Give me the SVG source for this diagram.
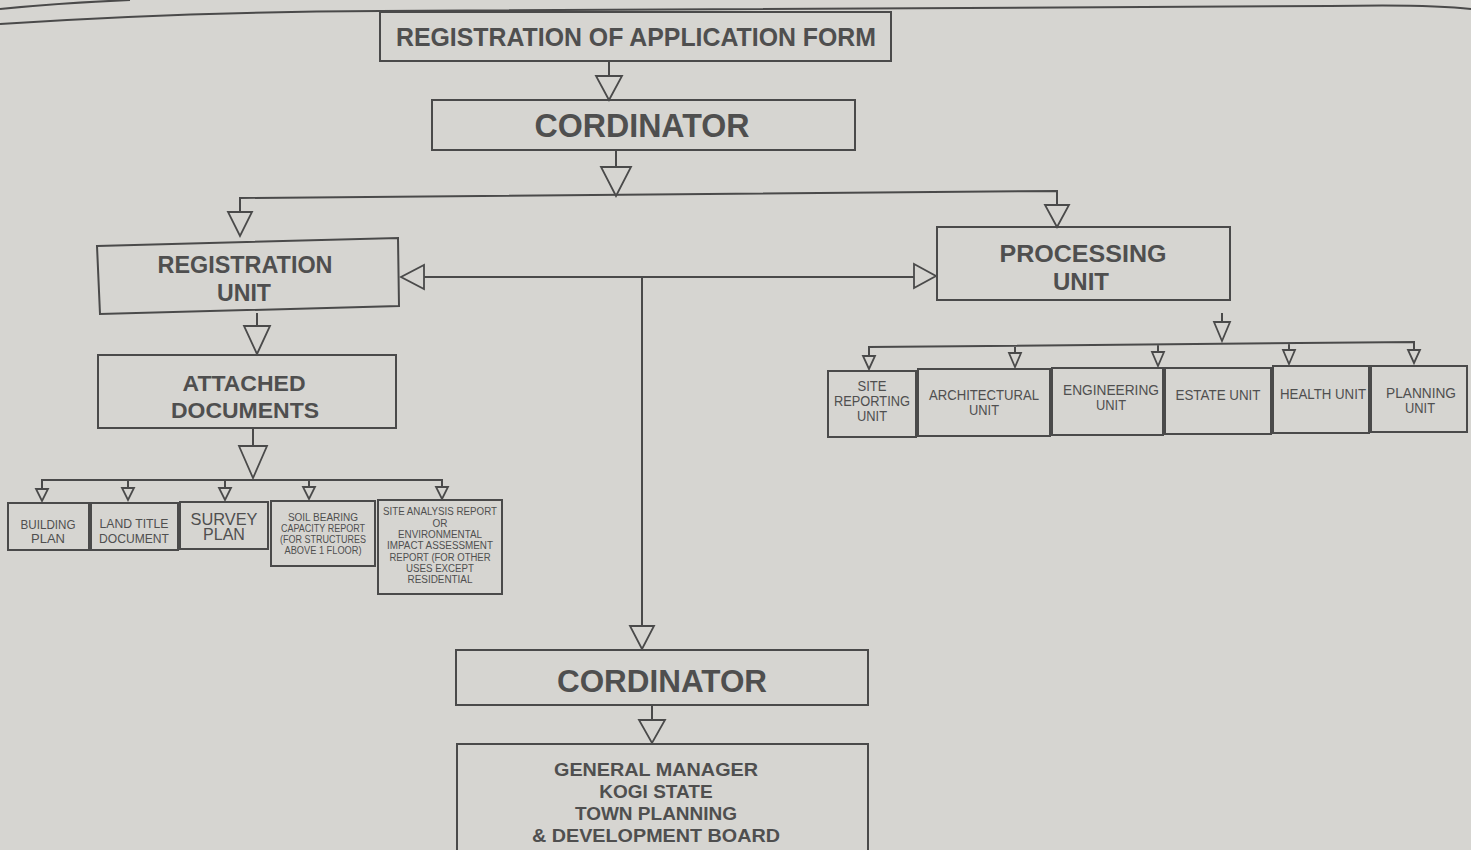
<svg xmlns="http://www.w3.org/2000/svg" width="1471" height="850" viewBox="0 0 1471 850">
<style>
.bx{fill:none;stroke:#4a4a4a;stroke-width:2}
.ln{fill:none;stroke:#4a4a4a;stroke-width:2}
.tri{fill:#d6d5d1;stroke:#4a4a4a;stroke-width:1.8;stroke-linejoin:miter}
text{font-family:"Liberation Sans",Arial,sans-serif;fill:#4f4f4f;text-anchor:middle}
.b{font-weight:bold}
.s{font-size:13px}
.u{font-size:14.5px}
.xs{font-size:10px}
</style>
<rect x="0" y="0" width="1471" height="850" fill="#d6d5d1"/>
<path class="ln" d="M0,24 Q180,12 380,11 L1330,6 Q1430,4 1471,9" stroke-width="2.5"/>
<path class="ln" d="M0,9 Q60,3 130,0" stroke-width="2"/>

<g id="connectors">
  <path class="ln" d="M609,61 V76"/>
  <polygon class="tri" points="596,76 622,76 609,100"/>
  <path class="ln" d="M616,150 V167"/>
  <polygon class="tri" points="601,167 631,167 616,196"/>
  <path class="ln" d="M240,212 V198 L1057,191 V205"/>
  <polygon class="tri" points="228,212 252,212 240,236"/>
  <polygon class="tri" points="1045,205 1069,205 1057,227"/>
  <path class="ln" d="M424,277 H914 M642,277 V626"/>
  <polygon class="tri" points="424,265 424,289 401,277"/>
  <polygon class="tri" points="914,264 914,288 936,276"/>
  <polygon class="tri" points="630,626 654,626 642,649"/>
  <path class="ln" d="M257,313 V326"/>
  <polygon class="tri" points="244,326 270,326 257,354"/>
  <path class="ln" d="M253,428 V446"/>
  <polygon class="tri" points="239,446 267,446 253,478"/>
  <path class="ln" d="M42,489 V480 H442 V487 M128,480 V488 M225,480 V488 M309,480 V488"/>
  <polygon class="tri" points="36,489 48,489 42,501"/>
  <polygon class="tri" points="122,488 134,488 128,500"/>
  <polygon class="tri" points="219,488 231,488 225,500"/>
  <polygon class="tri" points="303,487 315,487 309,499"/>
  <polygon class="tri" points="436,487 448,487 442,499"/>
  <path class="ln" d="M1222,313 V322"/>
  <polygon class="tri" points="1214,322 1230,322 1222,341"/>
  <path class="ln" d="M869,356 V347 L1414,342 V350 M1015,346 V353 M1158,345 V352 M1289,343 V350"/>
  <polygon class="tri" points="863,356 875,356 869,369"/>
  <polygon class="tri" points="1009,353 1021,353 1015,367"/>
  <polygon class="tri" points="1152,352 1164,352 1158,366"/>
  <polygon class="tri" points="1283,350 1295,350 1289,364"/>
  <polygon class="tri" points="1408,350 1420,350 1414,363"/>
  <path class="ln" d="M652,705 V720"/>
  <polygon class="tri" points="639,720 665,720 652,743"/>
</g>

<g id="reg-form">
  <rect class="bx" x="380" y="12" width="511" height="49"/>
  <text class="b" x="636" y="46" style="font-size:25px" textLength="480" lengthAdjust="spacingAndGlyphs">REGISTRATION OF APPLICATION FORM</text>
</g>
<g id="coordinator-top">
  <rect class="bx" x="432" y="100" width="423" height="50"/>
  <text class="b" x="642" y="137" style="font-size:33px" textLength="215" lengthAdjust="spacingAndGlyphs">CORDINATOR</text>
</g>
<g id="registration-unit">
  <path class="bx" d="M97,246 L398,238 L399,306 L100,314 Z"/>
  <text class="b" x="245" y="273" style="font-size:23px" textLength="175" lengthAdjust="spacingAndGlyphs">REGISTRATION</text>
  <text class="b" x="244" y="301" style="font-size:23px" textLength="54" lengthAdjust="spacingAndGlyphs">UNIT</text>
</g>
<g id="processing-unit">
  <rect class="bx" x="937" y="227" width="293" height="73"/>
  <text class="b" x="1083" y="262" style="font-size:23px" textLength="167" lengthAdjust="spacingAndGlyphs">PROCESSING</text>
  <text class="b" x="1081" y="290" style="font-size:23px" textLength="56" lengthAdjust="spacingAndGlyphs">UNIT</text>
</g>
<g id="attached-documents">
  <rect class="bx" x="98" y="355" width="298" height="73"/>
  <text class="b" x="244" y="391" style="font-size:22px" textLength="123" lengthAdjust="spacingAndGlyphs">ATTACHED</text>
  <text class="b" x="245" y="418" style="font-size:22px" textLength="148" lengthAdjust="spacingAndGlyphs">DOCUMENTS</text>
</g>
<g id="building-plan">
  <rect class="bx" x="8" y="503" width="81" height="47"/>
  <text class="s" x="48" y="529" textLength="55" lengthAdjust="spacingAndGlyphs">BUILDING</text>
  <text class="s" x="48" y="543">PLAN</text>
</g>
<g id="land-title">
  <rect class="bx" x="91" y="503" width="87" height="47"/>
  <text class="s" x="134" y="528" textLength="69" lengthAdjust="spacingAndGlyphs">LAND TITLE</text>
  <text class="s" x="134" y="543" textLength="70" lengthAdjust="spacingAndGlyphs">DOCUMENT</text>
</g>
<g id="survey-plan">
  <rect class="bx" x="180" y="502" width="88" height="47"/>
  <text x="224" y="525" style="font-size:16px" textLength="67" lengthAdjust="spacingAndGlyphs">SURVEY</text>
  <text x="224" y="540" style="font-size:16px">PLAN</text>
</g>
<g id="soil-bearing">
  <rect class="bx" x="271" y="501" width="104" height="65"/>
  <text class="xs" x="323" y="521">SOIL BEARING</text>
  <text class="xs" x="323" y="532" textLength="84" lengthAdjust="spacingAndGlyphs">CAPACITY REPORT</text>
  <text class="xs" x="323" y="543" textLength="86" lengthAdjust="spacingAndGlyphs">(FOR STRUCTURES</text>
  <text class="xs" x="323" y="554" textLength="77" lengthAdjust="spacingAndGlyphs">ABOVE 1 FLOOR)</text>
</g>
<g id="site-analysis">
  <rect class="bx" x="378" y="500" width="124" height="94"/>
  <text class="xs" x="440" y="515" textLength="114" lengthAdjust="spacingAndGlyphs">SITE ANALYSIS REPORT</text>
  <text class="xs" x="440" y="527">OR</text>
  <text class="xs" x="440" y="538" textLength="84" lengthAdjust="spacingAndGlyphs">ENVIRONMENTAL</text>
  <text class="xs" x="440" y="549" textLength="106" lengthAdjust="spacingAndGlyphs">IMPACT ASSESSMENT</text>
  <text class="xs" x="440" y="561" textLength="101" lengthAdjust="spacingAndGlyphs">REPORT (FOR OTHER</text>
  <text class="xs" x="440" y="572" textLength="68" lengthAdjust="spacingAndGlyphs">USES EXCEPT</text>
  <text class="xs" x="440" y="583" textLength="65" lengthAdjust="spacingAndGlyphs">RESIDENTIAL</text>
</g>
<g id="site-reporting">
  <rect class="bx" x="828" y="371" width="88" height="66"/>
  <text class="u" x="872" y="391" textLength="29" lengthAdjust="spacingAndGlyphs">SITE</text>
  <text class="u" x="872" y="406" textLength="76" lengthAdjust="spacingAndGlyphs">REPORTING</text>
  <text class="u" x="872" y="421" textLength="30" lengthAdjust="spacingAndGlyphs">UNIT</text>
</g>
<g id="architectural">
  <rect class="bx" x="918" y="369" width="132" height="67"/>
  <text class="u" x="984" y="400" textLength="110" lengthAdjust="spacingAndGlyphs">ARCHITECTURAL</text>
  <text class="u" x="984" y="415" textLength="30" lengthAdjust="spacingAndGlyphs">UNIT</text>
</g>
<g id="engineering">
  <rect class="bx" x="1052" y="368" width="111" height="67"/>
  <text class="u" x="1111" y="395" textLength="96" lengthAdjust="spacingAndGlyphs">ENGINEERING</text>
  <text class="u" x="1111" y="410" textLength="30" lengthAdjust="spacingAndGlyphs">UNIT</text>
</g>
<g id="estate">
  <rect class="bx" x="1165" y="368" width="106" height="66"/>
  <text class="u" x="1218" y="400" textLength="85" lengthAdjust="spacingAndGlyphs">ESTATE UNIT</text>
</g>
<g id="health">
  <rect class="bx" x="1273" y="366" width="96" height="67"/>
  <text class="u" x="1323" y="399" textLength="86" lengthAdjust="spacingAndGlyphs">HEALTH UNIT</text>
</g>
<g id="planning">
  <rect class="bx" x="1371" y="366" width="96" height="66"/>
  <text class="u" x="1421" y="398" textLength="70" lengthAdjust="spacingAndGlyphs">PLANNING</text>
  <text class="u" x="1420" y="413" textLength="30" lengthAdjust="spacingAndGlyphs">UNIT</text>
</g>
<g id="coordinator-bottom">
  <rect class="bx" x="456" y="650" width="412" height="55"/>
  <text class="b" x="662" y="692" style="font-size:32px" textLength="210" lengthAdjust="spacingAndGlyphs">CORDINATOR</text>
</g>
<g id="general-manager">
  <path class="bx" d="M457,851 V744 H868 V851"/>
  <text class="b" x="656" y="776" style="font-size:19px" textLength="204" lengthAdjust="spacingAndGlyphs">GENERAL MANAGER</text>
  <text class="b" x="656" y="798" style="font-size:19px">KOGI STATE</text>
  <text class="b" x="656" y="820" style="font-size:19px">TOWN PLANNING</text>
  <text class="b" x="656" y="842" style="font-size:19px" textLength="248" lengthAdjust="spacingAndGlyphs">&amp; DEVELOPMENT BOARD</text>
</g>
</svg>
